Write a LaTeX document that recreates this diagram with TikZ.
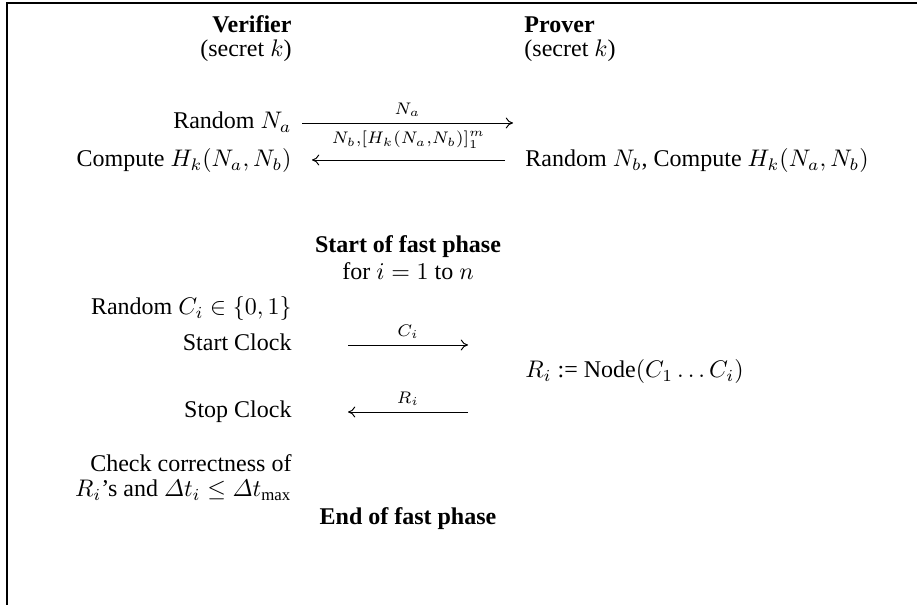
\documentclass[tikz,border=0pt]{standalone}
\usepackage{amsmath}
\usepackage{fontspec}
\setmainfont{Liberation Serif}
\usetikzlibrary{arrows.meta}
\begin{document}
\begin{tikzpicture}[x=0.4167pt,y=-0.4167pt,
  every node/.style={inner sep=0pt, font=\fontsize{10}{12}\selectfont},
  lt/.style={anchor=mid east},
  rt/.style={anchor=mid west},
  ct/.style={anchor=mid},
  msg/.style={-{To[length=3pt,width=4.5pt]}, line width=0.4pt},
  lbl/.style={midway, above=2.5pt, font=\scriptsize}]
\useasboundingbox (0,0) rectangle (917,605);
\draw[line width=0.8pt] (7,605) -- (7,3) -- (917,3);

% headers
\node[lt] (ver)  at (292,27) {\textbf{Verifier}};
\node[lt] (vsec) at (292,51) {(secret $k$)};
\node[rt] (pro)  at (524,27) {\textbf{Prover}};
\node[rt] (psec) at (524,51) {(secret $k$)};

% slow phase
\node[lt] (rna) at (292,123) {Random $N_a$};
\coordinate (a1) at (302,123);
\coordinate (a2) at (513,123);
\draw[msg] (a1) -- node[lbl] {$N_a$} (a2);

\node[lt] (cmp) at (292,161) {Compute $H_k(N_a,N_b)$};
\node[rt] (rnb) at (525,161) {Random $N_b$, Compute $H_k(N_a,N_b)$};
\coordinate (b1) at (505,160);
\coordinate (b2) at (312,160);
\draw[msg] (b1) -- node[lbl, above=2pt] {$N_b{,}[H_k(N_a{,}N_b)]_1^m$} (b2);

% fast phase
\node[ct] (sfp) at (408,247) {\textbf{Start of fast phase}};
\node[ct] (for) at (408,274) {for $i=1$ to $n$};
\node[lt] (rci) at (292,309) {Random $C_i\in\{0,1\}$};
\node[lt] (stc) at (292,345) {Start Clock};
\coordinate (c1) at (348,345);
\coordinate (c2) at (468,345);
\draw[msg] (c1) -- node[lbl] {$C_i$} (c2);

\node[rt] (ri) at (525,372) {$R_i$ := Node$(C_1\ldots C_i)$};

\node[lt] (spc) at (292,412) {Stop Clock};
\coordinate (d1) at (468,412);
\coordinate (d2) at (348,412);
\draw[msg] (d1) -- node[lbl] {$R_i$} (d2);

\node[lt] (chk1) at (292,466) {Check correctness of};
\node[lt] (chk2) at (292,491) {$R_i$'s and $\varDelta t_i\le\varDelta t_{\max}$};
\node[ct] (efp) at (408,519) {\textbf{End of fast phase}};
\end{tikzpicture}
\end{document}
